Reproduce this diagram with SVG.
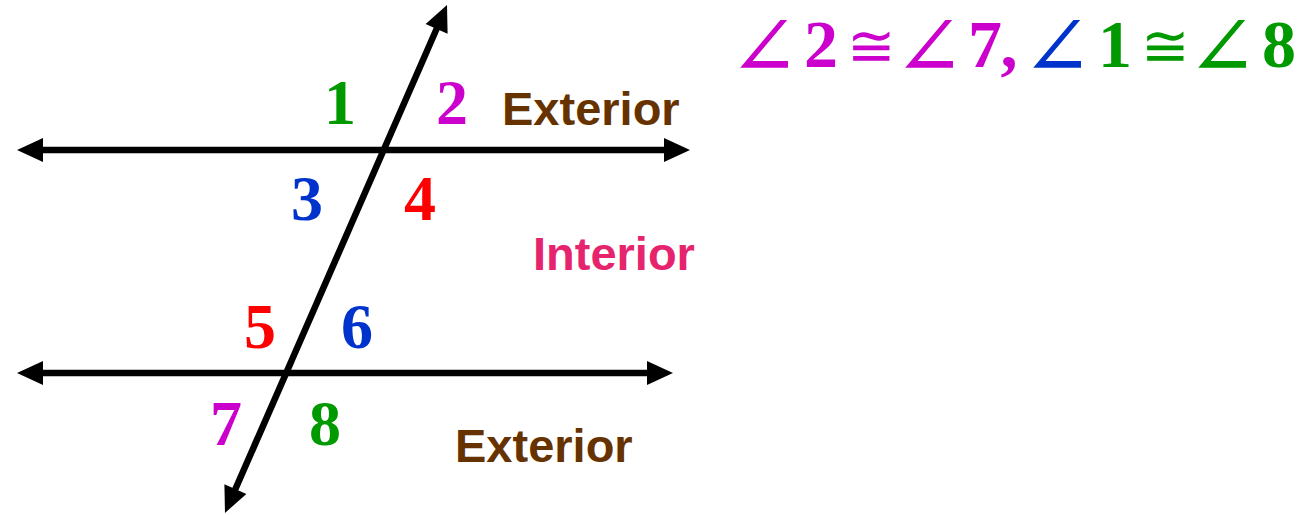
<svg xmlns="http://www.w3.org/2000/svg" width="1305" height="515" viewBox="0 0 1305 515">
<style>
.ln{stroke:#000;stroke-width:6.5;fill:none;marker-start:url(#ah);marker-end:url(#ah)}
.num{font-family:"Liberation Serif","Times New Roman",serif;font-weight:bold;font-size:64px;text-anchor:middle}
.eq{font-family:"Liberation Serif","DejaVu Serif",serif;font-size:68px;text-anchor:middle}
.ang{font-size:85px}
.cong{font-size:58px}
.b{font-weight:bold}
.lbl{font-family:"Liberation Sans",Arial,sans-serif;font-weight:bold;font-size:47px}
.mag{fill:#cc00cc}.grn{fill:#009900}.blu{fill:#0033cc}.red{fill:#ff0000}
</style>
<defs>
<marker id="ah" markerUnits="userSpaceOnUse" markerWidth="26" markerHeight="26" refX="1" refY="12" orient="auto-start-reverse" overflow="visible">
<path d="M0,0 L26,12 L0,24 Z" fill="#000"/>
</marker>
</defs>
<rect width="1305" height="515" fill="#fff"/>
<g id="connectors">
<line class="ln" x1="42" y1="150" x2="665" y2="150"/>
<line class="ln" x1="42" y1="373" x2="648" y2="373"/>
<line class="ln" x1="235" y1="490" x2="437" y2="28"/>
</g>
<g id="angles">
<text class="num grn" x="340" y="124">1</text>
<text class="num mag" x="452" y="124">2</text>
<text class="num blu" x="307" y="220">3</text>
<text class="num red" x="420" y="220">4</text>
<text class="num red" x="260" y="348">5</text>
<text class="num blu" x="357" y="348">6</text>
<text class="num mag" x="226" y="445">7</text>
<text class="num grn" x="325" y="445">8</text>
</g>
<g id="labels">
<text class="lbl" x="502" y="125" fill="#663300">Exterior</text>
<text class="lbl" x="533" y="270" fill="#e6246e">Interior</text>
<text class="lbl" x="455" y="462" fill="#663300">Exterior</text>
</g>
<g id="equation">
<text class="eq ang mag" x="764" y="76">∠</text>
<text class="eq mag b" x="821" y="67">2</text>
<text class="eq cong mag" x="871" y="66">≅</text>
<text class="eq ang mag" x="929" y="76">∠</text>
<text class="eq mag b" x="985" y="67">7</text>
<text class="eq mag b" x="1009" y="67">,</text>
<text class="eq ang blu" x="1057" y="76">∠</text>
<text class="eq grn b" x="1115" y="67">1</text>
<text class="eq cong grn" x="1165" y="66">≅</text>
<text class="eq ang grn" x="1222" y="76">∠</text>
<text class="eq grn b" x="1279" y="67">8</text>
</g>
</svg>
